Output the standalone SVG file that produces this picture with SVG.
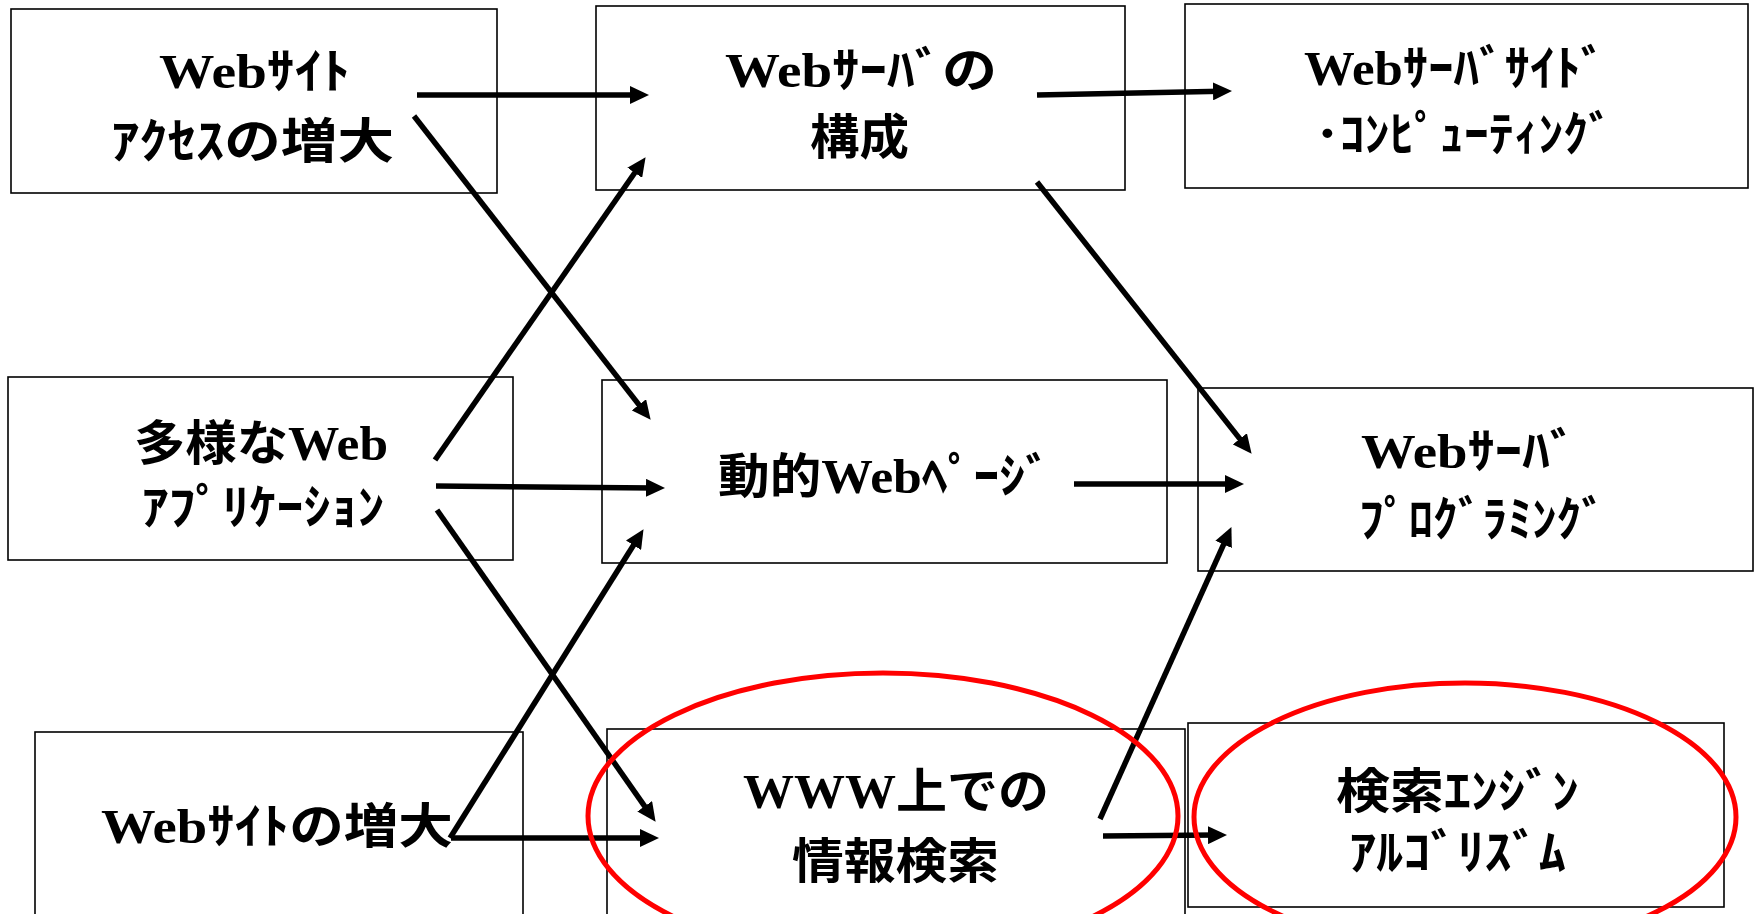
<svg xmlns="http://www.w3.org/2000/svg" width="1757" height="914" viewBox="0 0 1757 914">
<style>
.box{fill:#fff;stroke:#000;stroke-width:1.6}
.t{font-family:"Noto Sans CJK JP","Noto Sans",sans-serif;font-weight:bold;font-size:48px;fill:#000;text-anchor:middle}
.w{font-family:"Liberation Serif","Times New Roman",serif;font-weight:bold}
.c{stroke:#000;stroke-width:5.5;fill:none;marker-end:url(#ah)}
.oval{fill:none;stroke:#ff0000;stroke-width:5}
</style>
<defs>
<marker id="ah" markerUnits="userSpaceOnUse" viewBox="0 0 19 18" markerWidth="19" markerHeight="18" refX="8" refY="9" orient="auto">
<path d="M0,0 L19,9 L0,18 z" fill="#000"/>
</marker>
</defs>
<g id="nodeA">
<rect class="box" x="11" y="9" width="486" height="184"/>
<text class="t" x="254.5" y="88" textLength="191" lengthAdjust="spacingAndGlyphs"><tspan class="w">Web</tspan>ｻｲﾄ</text>
<text class="t" x="252.5" y="158" textLength="283" lengthAdjust="spacingAndGlyphs">ｱｸｾｽの増大</text>
</g>
<g id="nodeB">
<rect class="box" x="596" y="6" width="529" height="184"/>
<text class="t" x="861" y="87" textLength="272" lengthAdjust="spacingAndGlyphs"><tspan class="w">Web</tspan>ｻｰﾊﾞの</text>
<text class="t" x="859.5" y="154" textLength="99" lengthAdjust="spacingAndGlyphs">構成</text>
</g>
<g id="nodeC">
<rect class="box" x="1185" y="4" width="563" height="184"/>
<text class="t" x="1455" y="85" textLength="302" lengthAdjust="spacingAndGlyphs"><tspan class="w">Web</tspan>ｻｰﾊﾞｻｲﾄﾞ</text>
<text class="t" x="1464" y="151" textLength="298" lengthAdjust="spacingAndGlyphs">･ｺﾝﾋﾟｭｰﾃｨﾝｸﾞ</text>
</g>
<g id="nodeD">
<rect class="box" x="8" y="377" width="505" height="183"/>
<text class="t" x="261" y="460" textLength="254" lengthAdjust="spacingAndGlyphs">多様な<tspan class="w">Web</tspan></text>
<text class="t" x="263" y="524" textLength="243" lengthAdjust="spacingAndGlyphs">ｱﾌﾟﾘｹｰｼｮﾝ</text>
</g>
<g id="nodeE">
<rect class="box" x="602" y="380" width="565" height="183"/>
<text class="t" x="884.5" y="493" textLength="333" lengthAdjust="spacingAndGlyphs">動的<tspan class="w">Web</tspan>ﾍﾟｰｼﾞ</text>
</g>
<g id="nodeF">
<rect class="box" x="1198" y="388" width="555" height="183"/>
<text class="t" x="1469" y="468" textLength="216" lengthAdjust="spacingAndGlyphs"><tspan class="w">Web</tspan>ｻｰﾊﾞ</text>
<text class="t" x="1482.5" y="536" textLength="247" lengthAdjust="spacingAndGlyphs">ﾌﾟﾛｸﾞﾗﾐﾝｸﾞ</text>
</g>
<g id="nodeG">
<rect class="box" x="35" y="732" width="488" height="200"/>
<text class="t" x="277" y="843" textLength="352" lengthAdjust="spacingAndGlyphs"><tspan class="w">Web</tspan>ｻｲﾄの増大</text>
</g>
<g id="nodeH">
<rect class="box" x="607" y="729" width="578" height="200"/>
<text class="t" x="896" y="808" textLength="306" lengthAdjust="spacingAndGlyphs"><tspan class="w">WWW</tspan>上での</text>
<text class="t" x="895.5" y="878" textLength="207" lengthAdjust="spacingAndGlyphs">情報検索</text>
</g>
<g id="nodeI">
<rect class="box" x="1188" y="723" width="536" height="184"/>
<text class="t" x="1457.5" y="808" textLength="243" lengthAdjust="spacingAndGlyphs">検索ｴﾝｼﾞﾝ</text>
<text class="t" x="1457.5" y="869" textLength="217" lengthAdjust="spacingAndGlyphs">ｱﾙｺﾞﾘｽﾞﾑ</text>
</g>
<g id="connectors">
<line class="c" x1="417" y1="95" x2="638" y2="95"/>
<line class="c" x1="414" y1="116" x2="643.9" y2="411.1"/>
<line class="c" x1="1037" y1="95" x2="1221" y2="91.2"/>
<line class="c" x1="1037" y1="182" x2="1244.8" y2="445.1"/>
<line class="c" x1="435" y1="460" x2="639.3" y2="166.2"/>
<line class="c" x1="436" y1="486" x2="654" y2="487.9"/>
<line class="c" x1="437" y1="510" x2="649.3" y2="812.8"/>
<line class="c" x1="450" y1="838" x2="637.7" y2="538.5"/>
<line class="c" x1="451" y1="838" x2="648" y2="838"/>
<line class="c" x1="1100" y1="819" x2="1226.9" y2="537.1"/>
<line class="c" x1="1074" y1="484" x2="1233" y2="484"/>
<line class="c" x1="1103" y1="836" x2="1216" y2="835.1"/>
</g>
<g id="highlights">
<ellipse class="oval" cx="883" cy="816" rx="295" ry="143"/>
<ellipse class="oval" cx="1465" cy="817" rx="271" ry="134"/>
</g>
</svg>
